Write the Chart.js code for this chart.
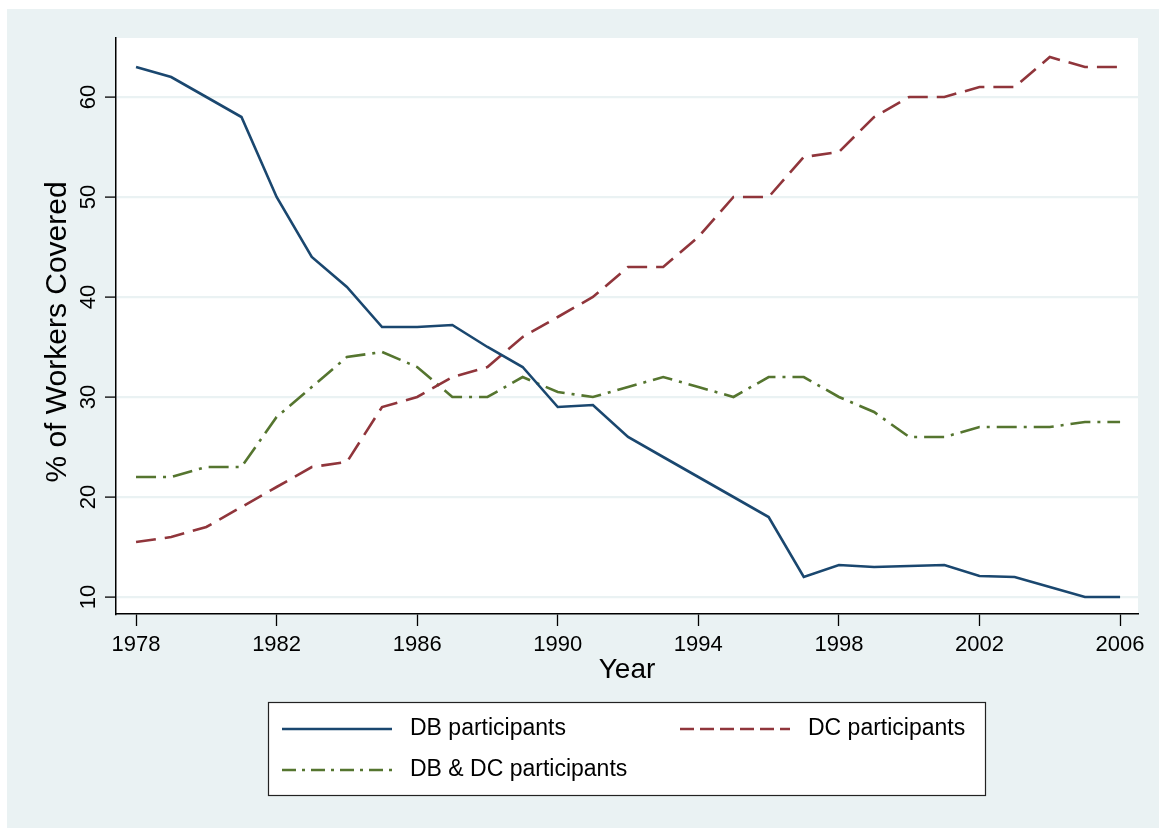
<!DOCTYPE html>
<html lang="en">
<head>
  <meta charset="UTF-8">
  <title>Pension coverage</title>
  <script src="https://cdn.jsdelivr.net/npm/chart.js"></script>
  <style>
    body { margin: 0; background: #fff; }
    canvas { display: block; }
  </style>
</head>
<body>
  <canvas id="chart" width="1166" height="828"></canvas>

  <script>
    // data
    const years = [1978, 1979, 1980, 1981, 1982, 1983, 1984, 1985, 1986, 1987, 1988, 1989, 1990, 1991, 1992,
                   1993, 1994, 1995, 1996, 1997, 1998, 1999, 2000, 2001, 2002, 2003, 2004, 2005, 2006];
    const dbParticipants = [63, 62, 60, 58, 50, 44, 41, 37, 37, 37.2, 35, 33, 29, 29.2, 26,
                            24, 22, 20, 18, 12, 13.2, 13, 13.1, 13.2, 12.1, 12, 11, 10, 10];
    const dcParticipants = [15.5, 16, 17, 19, 21, 23, 23.5, 29, 30, 32, 33, 36, 38, 40, 43,
                            43, 46, 50, 50, 54, 54.5, 58, 60, 60, 61, 61, 64, 63, 63];
    const bothParticipants = [22, 22, 23, 23, 28, 31, 34, 34.5, 33, 30, 30, 32, 30.5, 30, 31,
                              32, 31, 30, 32, 32, 30, 28.5, 26, 26, 27, 27, 27, 27.5, 27.5];
    const xTicks = [1978, 1982, 1986, 1990, 1994, 1998, 2002, 2006];
    const yTicks = [10, 20, 30, 40, 50, 60];

    const bgBlue = '#EAF2F3';
    const font = '"Liberation Sans", Arial, sans-serif';

    const pts = arr => years.map((y, i) => ({ x: y, y: arr[i] }));

    // background, y labels, y title and the boxed legend (Stata look)
    const stataLook = {
      id: 'stataLook',
      beforeDraw(chart) {
        const { ctx, chartArea: a } = chart;
        ctx.save();
        ctx.fillStyle = '#fff';
        ctx.fillRect(0, 0, chart.width, chart.height);
        ctx.fillStyle = bgBlue;
        ctx.fillRect(7, 9, 1152, 819);
        ctx.fillStyle = '#fff';
        ctx.fillRect(a.left, a.top, a.right - a.left, a.bottom - a.top);
        ctx.restore();
      },
      afterDraw(chart) {
        const { ctx } = chart;
        const ys = chart.scales.y;
        ctx.save();
        ctx.fillStyle = '#000';
        // rotated tick labels
        ctx.font = '22px ' + font;
        ctx.textAlign = 'center';
        ctx.textBaseline = 'alphabetic';
        ys.ticks.forEach(t => {
          ctx.save();
          ctx.translate(95, ys.getPixelForValue(t.value));
          ctx.rotate(-Math.PI / 2);
          ctx.fillText(String(t.value), 0, 0);
          ctx.restore();
        });
        // axis title
        ctx.save();
        ctx.font = '30px ' + font;
        ctx.textBaseline = 'middle';
        ctx.translate(58, 332);
        ctx.rotate(-Math.PI / 2);
        ctx.fillText('% of Workers Covered', 0, 0);
        ctx.restore();

        // legend box
        ctx.fillStyle = '#fff';
        ctx.fillRect(268, 702, 718, 94);
        ctx.strokeStyle = '#222';
        ctx.lineWidth = 1.2;
        ctx.strokeRect(268.5, 702.5, 717, 93);
        const spots = [[282, 729], [680, 729], [282, 770]];
        chart.data.datasets.forEach((ds, i) => {
          const [x, y] = spots[i];
          ctx.strokeStyle = ds.borderColor;
          ctx.lineWidth = ds.borderWidth;
          ctx.setLineDash(ds.legendDash || []);
          ctx.beginPath();
          ctx.moveTo(x, y);
          ctx.lineTo(x + 110, y);
          ctx.stroke();
          ctx.setLineDash([]);
          ctx.fillStyle = '#000';
          ctx.font = '23px ' + font;
          ctx.textAlign = 'left';
          ctx.textBaseline = 'middle';
          ctx.fillText(ds.label, x + 128, y);
        });
        ctx.restore();
      }
    };

    new Chart(document.getElementById('chart'), {
      type: 'line',
      data: {
        datasets: [
          { label: 'DB participants', data: pts(dbParticipants),
            borderColor: '#1A476F', borderWidth: 2.6 },
          { label: 'DC participants', data: pts(dcParticipants),
            borderColor: '#90353B', borderWidth: 2.6, borderDash: [20, 9], legendDash: [14, 6] },
          { label: 'DB & DC participants', data: pts(bothParticipants),
            borderColor: '#55752F', borderWidth: 2.6, borderDash: [20, 7, 3, 7], legendDash: [14, 6, 3, 6] }
        ]
      },
      options: {
        responsive: false,
        animation: false,
        layout: { padding: { top: 38, right: 28, left: 0, bottom: 0 } },
        elements: { point: { radius: 0 }, line: { tension: 0, borderCapStyle: 'butt' } },
        plugins: { legend: { display: false }, tooltip: { enabled: false } },
        scales: {
          x: {
            type: 'linear',
            min: 1977.43,
            max: 2006.51,
            afterBuildTicks: s => { s.ticks = xTicks.map(v => ({ value: v })); },
            afterFit: s => { s.height = 214; },
            grid: { drawOnChartArea: false, tickLength: 12, tickColor: '#000', tickWidth: 1.3 },
            border: { color: '#000', width: 1.5 },
            ticks: { color: '#000', padding: 6, maxRotation: 0, font: { size: 22, family: font },
                     callback: v => String(v) },
            title: { display: true, text: 'Year', color: '#000', font: { size: 28, family: font },
                     padding: { top: 0, bottom: 141 } }
          },
          y: {
            min: 8.3,
            max: 65.9,
            afterBuildTicks: s => { s.ticks = yTicks.map(v => ({ value: v })); },
            afterFit: s => { s.width = 116; },
            grid: { color: bgBlue, lineWidth: 2.2, tickLength: 11, tickColor: '#000', tickWidth: 1.3 },
            border: { color: '#000', width: 1.5 },
            ticks: { callback: () => '' }
          }
        }
      },
      plugins: [stataLook]
    });
  </script>
</body>
</html>
